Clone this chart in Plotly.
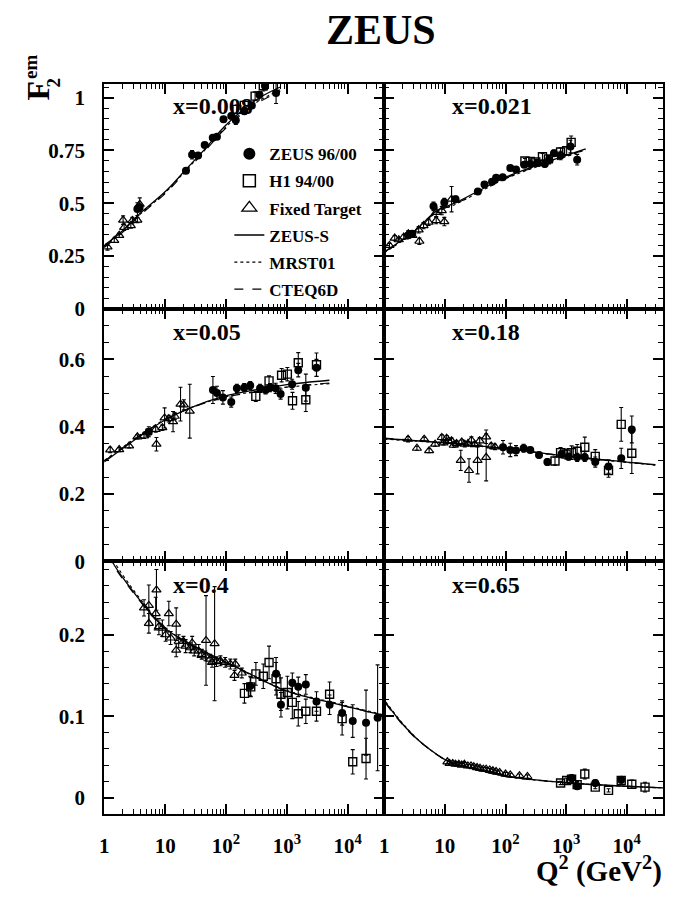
import plotly.graph_objects as go

# ---- panel labels / axis ticks ----
panel_labels = ["x=0.008", "x=0.021", "x=0.05", "x=0.18", "x=0.4", "x=0.65"]
q_tickvals = [1, 10, 100, 1000, 10000]
q_ticktext = ["1", "10", "10<sup>2</sup>", "10<sup>3</sup>", "10<sup>4</sup>"]

# ---- x = 0.008 ----
zeus_q_1 = [3.5, 3.8, 22, 27.7, 34.8, 44.7, 60.6, 71, 91, 122, 145, 200, 266, 355, 437, 665]
zeus_f_1 = [0.472, 0.48, 0.654, 0.729, 0.726, 0.776, 0.81, 0.815, 0.897, 0.913, 0.893, 0.935, 0.963, 1.013, 1.056, 1.022]
zeus_e_1 = [0.03, 0.02, 0.01, 0.02, 0.01, 0.01, 0.01, 0.01, 0.012, 0.012, 0.02, 0.015, 0.015, 0.015, 0.02, 0.05]
h1_q_1 = [151, 200, 301, 410]
h1_f_1 = [0.944, 0.963, 1.007, 1.056]
h1_e_1 = [0.02, 0.02, 0.02, 0.025]
ft_q_1 = [1.13, 1.46, 1.76, 2.04, 2.12, 2.73, 2.9, 3.5, 3.83]
ft_f_1 = [0.293, 0.324, 0.348, 0.42, 0.386, 0.394, 0.418, 0.42, 0.495]
ft_e_1 = [0.015, 0.01, 0.01, 0.02, 0.015, 0.012, 0.015, 0.012, 0.03]
curve_q_1 = [1, 2, 3.5, 10.5, 22, 43, 100, 316, 780]
zs_f_1 = [0.30, 0.37, 0.44, 0.56, 0.66, 0.75, 0.87, 0.99, 1.05]
mrst_f_1 = [0.295, 0.366, 0.436, 0.555, 0.655, 0.745, 0.862, 0.977, 1.037]
cteq_f_1 = [0.29, 0.362, 0.432, 0.551, 0.65, 0.74, 0.856, 0.97, 1.03]

# ---- x = 0.021 ----
zeus_q_2 = [2.5, 2.9, 6.5, 9.8, 15, 35, 45, 60, 70, 90, 120, 149, 204, 256, 338, 445, 524, 630, 810, 1180, 1520]
zeus_f_2 = [0.348, 0.355, 0.485, 0.503, 0.519, 0.555, 0.589, 0.601, 0.62, 0.623, 0.667, 0.659, 0.682, 0.685, 0.69, 0.686, 0.706, 0.737, 0.726, 0.768, 0.706]
zeus_e_2 = [0.015, 0.015, 0.02, 0.02, 0.015, 0.01, 0.01, 0.01, 0.01, 0.01, 0.01, 0.01, 0.01, 0.01, 0.01, 0.015, 0.02, 0.015, 0.02, 0.03, 0.025]
h1_q_2 = [209, 256, 316, 407, 510, 810, 1020, 1210]
h1_f_2 = [0.70, 0.698, 0.695, 0.72, 0.71, 0.742, 0.748, 0.788]
h1_e_2 = [0.012, 0.012, 0.012, 0.015, 0.015, 0.02, 0.02, 0.03]
ft_q_2 = [1.22, 1.49, 1.74, 2.1, 2.5, 2.9, 3.7, 3.8, 4.45, 5.4, 7.2, 7.2, 8.9, 9.8, 12.9]
ft_f_2 = [0.30, 0.335, 0.327, 0.34, 0.355, 0.348, 0.374, 0.32, 0.394, 0.41, 0.418, 0.457, 0.465, 0.413, 0.519]
ft_e_2 = [0.01, 0.012, 0.01, 0.012, 0.015, 0.01, 0.015, 0.015, 0.015, 0.015, 0.015, 0.02, 0.02, 0.02, 0.06]
curve_q_2 = [1, 3.2, 7.4, 14.5, 40, 95, 340, 2100]
zs_f_2 = [0.27, 0.37, 0.465, 0.50, 0.565, 0.62, 0.68, 0.757]
mrst_f_2 = [0.265, 0.365, 0.458, 0.493, 0.558, 0.613, 0.674, 0.752]
cteq_f_2 = [0.268, 0.368, 0.46, 0.495, 0.56, 0.615, 0.676, 0.754]

# ---- x = 0.05 ----
zeus_q_3 = [5.4, 61, 71, 89, 122, 151, 199, 250, 363, 447, 528, 655, 790, 1220, 1540, 2050, 3070]
zeus_f_3 = [0.385, 0.509, 0.50, 0.487, 0.473, 0.514, 0.516, 0.522, 0.514, 0.509, 0.516, 0.514, 0.497, 0.526, 0.568, 0.516, 0.575]
zeus_e_3 = [0.015, 0.04, 0.02, 0.02, 0.015, 0.012, 0.012, 0.012, 0.012, 0.012, 0.012, 0.015, 0.015, 0.015, 0.02, 0.04, 0.025]
h1_q_3 = [309, 510, 820, 1020, 1240, 1540, 2050, 3070]
h1_f_3 = [0.49, 0.536, 0.553, 0.556, 0.477, 0.59, 0.48, 0.584]
h1_e_3 = [0.015, 0.015, 0.02, 0.02, 0.025, 0.03, 0.035, 0.035]
ft_q_3 = [1.25, 1.76, 2.56, 3.5, 4.5, 5.1, 7.0, 7.2, 9.0, 9.8, 11.5, 13.5, 14.4, 17.9, 20.3, 25.4]
ft_f_3 = [0.331, 0.332, 0.343, 0.37, 0.373, 0.382, 0.392, 0.348, 0.397, 0.426, 0.424, 0.415, 0.431, 0.467, 0.465, 0.446]
ft_e_3 = [0.008, 0.006, 0.006, 0.006, 0.008, 0.01, 0.008, 0.02, 0.008, 0.03, 0.01, 0.03, 0.01, 0.05, 0.015, 0.08]
curve_q_3 = [1, 5.1, 10, 26, 91, 316, 1000, 5000]
zs_f_3 = [0.295, 0.387, 0.42, 0.456, 0.49, 0.51, 0.525, 0.538]
mrst_f_3 = [0.30, 0.39, 0.422, 0.456, 0.487, 0.505, 0.517, 0.528]
cteq_f_3 = [0.298, 0.389, 0.421, 0.455, 0.486, 0.504, 0.518, 0.53]

# ---- x = 0.18 ----
zeus_q_4 = [91, 120, 149, 199, 256, 357, 490, 840, 1100, 1520, 2030, 3020, 5000, 8100, 12100]
zeus_f_4 = [0.339, 0.331, 0.329, 0.336, 0.331, 0.316, 0.295, 0.319, 0.311, 0.309, 0.309, 0.295, 0.282, 0.306, 0.392]
zeus_e_4 = [0.02, 0.02, 0.015, 0.012, 0.008, 0.008, 0.01, 0.01, 0.01, 0.012, 0.012, 0.015, 0.02, 0.03, 0.04]
h1_q_4 = [655, 810, 1000, 1230, 1520, 2030, 3020, 5000, 8100, 12100]
h1_f_4 = [0.298, 0.323, 0.319, 0.323, 0.327, 0.339, 0.312, 0.27, 0.407, 0.321]
h1_e_4 = [0.012, 0.015, 0.015, 0.02, 0.02, 0.03, 0.02, 0.02, 0.05, 0.06]
ft_q_4 = [2.47, 3.46, 4.56, 5.5, 6.9, 8.9, 10.7, 12.9, 15.6, 18.3, 21.3, 25, 27.4, 34.6, 37.5, 48, 48, 58, 67,
          9.5, 11.5, 14, 19, 24, 31]
ft_f_4 = [0.363, 0.336, 0.363, 0.329, 0.348, 0.368, 0.366, 0.358, 0.350, 0.30, 0.348, 0.27, 0.36, 0.30, 0.358, 0.37, 0.309, 0.343, 0.34,
          0.352, 0.357, 0.345, 0.355, 0.35, 0.347]
ft_e_4 = [0.008, 0.006, 0.006, 0.006, 0.006, 0.008, 0.008, 0.008, 0.008, 0.03, 0.008, 0.035, 0.01, 0.04, 0.01, 0.02, 0.07, 0.008, 0.008,
          0.006, 0.006, 0.006, 0.006, 0.006, 0.006]
curve_q_4 = [1, 10, 100, 1000, 10000, 29500]
zs_f_4 = [0.365, 0.352, 0.335, 0.313, 0.295, 0.287]
mrst_f_4 = [0.363, 0.351, 0.334, 0.312, 0.294, 0.286]
cteq_f_4 = [0.366, 0.353, 0.335, 0.313, 0.295, 0.287]

# ---- x = 0.4 ----
zeus_q_5 = [250, 665, 800, 1230, 1540, 2050, 3070, 5040, 8100, 12100, 20000, 31000]
zeus_f_5 = [0.137, 0.152, 0.114, 0.141, 0.136, 0.139, 0.118, 0.114, 0.104, 0.094, 0.092, 0.098]
zeus_e_5 = [0.012, 0.02, 0.015, 0.012, 0.012, 0.012, 0.012, 0.012, 0.015, 0.02, 0.04, 0.065]
h1_q_5 = [201, 255, 310, 410, 510, 665, 800, 1020, 1230, 1540, 2050, 3070, 5040, 8100, 12100, 20000]
h1_f_5 = [0.128, 0.136, 0.152, 0.149, 0.166, 0.146, 0.127, 0.129, 0.117, 0.103, 0.106, 0.106, 0.127, 0.097, 0.044, 0.048]
h1_e_5 = [0.012, 0.012, 0.014, 0.015, 0.02, 0.02, 0.02, 0.02, 0.02, 0.015, 0.015, 0.012, 0.015, 0.02, 0.015, 0.025]
ft_q_5 = [4.5, 5.4, 7.2, 7.0, 9.0, 11.5, 15.2, 15.2, 20, 27.8, 47, 65, 59, 81, 97, 118, 142, 138, 182,
          5.4, 7.9, 10.2, 12.3, 16.7, 21.7, 26, 30, 35.6, 40, 45.8, 55, 70]
ft_f_5 = [0.233, 0.236, 0.255, 0.226, 0.208, 0.226, 0.213, 0.181, 0.192, 0.19, 0.193, 0.189, 0.166, 0.168, 0.166, 0.164, 0.164, 0.15, 0.153,
          0.214, 0.21, 0.2, 0.196, 0.192, 0.186, 0.184, 0.18, 0.18, 0.176, 0.174, 0.17, 0.167]
ft_e_5 = [0.01, 0.025, 0.025, 0.02, 0.01, 0.015, 0.02, 0.008, 0.006, 0.008, 0.055, 0.07, 0.006, 0.006, 0.006, 0.006, 0.006, 0.006, 0.006,
          0.012, 0.01, 0.008, 0.008, 0.008, 0.008, 0.006, 0.006, 0.008, 0.006, 0.006, 0.006, 0.006]
curve_q_5 = [1.2, 1.37, 4.5, 10.7, 43, 151, 977, 6460, 38000]
zs_f_5 = [0.30, 0.289, 0.236, 0.206, 0.18, 0.16, 0.131, 0.115, 0.101]
mrst_f_5 = [0.305, 0.293, 0.238, 0.207, 0.18, 0.16, 0.132, 0.116, 0.102]
cteq_f_5 = [0.298, 0.287, 0.235, 0.205, 0.179, 0.159, 0.131, 0.115, 0.101]

# ---- x = 0.65 ----
zeus_q_6 = [1230, 1520, 3020, 8100]
zeus_f_6 = [0.024, 0.014, 0.018, 0.022]
zeus_e_6 = [0.004, 0.004, 0.004, 0.004]
h1_q_6 = [810, 1020, 1230, 1520, 2030, 3020, 5000, 8100, 12100, 20000]
h1_f_6 = [0.018, 0.021, 0.0226, 0.016, 0.029, 0.013, 0.009, 0.021, 0.0165, 0.013]
h1_e_6 = [0.002, 0.003, 0.004, 0.004, 0.006, 0.002, 0.002, 0.005, 0.005, 0.006]
ft_q_6 = [11, 12, 13.5, 15, 17, 19, 21, 24, 27, 30, 34, 38, 43, 48, 55, 62, 70, 80, 100, 120, 170, 230]
ft_f_6 = [0.044, 0.042, 0.042, 0.041, 0.041, 0.040, 0.041, 0.039, 0.039, 0.038, 0.037, 0.036, 0.035, 0.035, 0.034, 0.033, 0.032, 0.031, 0.029, 0.028, 0.027, 0.026]
ft_e_6 = [0.002] * len(ft_q_6)
curve_q_6 = [1.05, 2.2, 4.2, 11.5, 27, 102, 1180, 40000]
zs_f_6 = [0.117, 0.087, 0.0667, 0.0444, 0.0364, 0.0262, 0.018, 0.012]
mrst_f_6 = [0.118, 0.088, 0.067, 0.0444, 0.0363, 0.0261, 0.018, 0.012]
cteq_f_6 = [0.116, 0.086, 0.0665, 0.0443, 0.0363, 0.0261, 0.018, 0.012]

panels = [
    (zeus_q_1, zeus_f_1, zeus_e_1, h1_q_1, h1_f_1, h1_e_1, ft_q_1, ft_f_1, ft_e_1, curve_q_1, zs_f_1, mrst_f_1, cteq_f_1),
    (zeus_q_2, zeus_f_2, zeus_e_2, h1_q_2, h1_f_2, h1_e_2, ft_q_2, ft_f_2, ft_e_2, curve_q_2, zs_f_2, mrst_f_2, cteq_f_2),
    (zeus_q_3, zeus_f_3, zeus_e_3, h1_q_3, h1_f_3, h1_e_3, ft_q_3, ft_f_3, ft_e_3, curve_q_3, zs_f_3, mrst_f_3, cteq_f_3),
    (zeus_q_4, zeus_f_4, zeus_e_4, h1_q_4, h1_f_4, h1_e_4, ft_q_4, ft_f_4, ft_e_4, curve_q_4, zs_f_4, mrst_f_4, cteq_f_4),
    (zeus_q_5, zeus_f_5, zeus_e_5, h1_q_5, h1_f_5, h1_e_5, ft_q_5, ft_f_5, ft_e_5, curve_q_5, zs_f_5, mrst_f_5, cteq_f_5),
    (zeus_q_6, zeus_f_6, zeus_e_6, h1_q_6, h1_f_6, h1_e_6, ft_q_6, ft_f_6, ft_e_6, curve_q_6, zs_f_6, mrst_f_6, cteq_f_6),
]

# per-row y axis setup
y_ranges = [[0, 1.065], [0, 0.75], [-0.02, 0.29]]
y_tickvals = [[0, 0.25, 0.5, 0.75, 1], [0, 0.2, 0.4, 0.6], [0, 0.1, 0.2]]
y_ticktext = [["0", "0.25", "0.5", "0.75", "1"], ["0", "0.2", "0.4", "0.6"], ["0", "0.1", "0.2"]]
y_minor = [0.05, 0.05, 0.02]

# panel geometry (paper fractions)
col_dom = [[0.1462, 0.5585], [0.5585, 0.9693]]
row_dom = [[0.6526, 0.9057], [0.3685, 0.6526], [0.0844, 0.3685]]

q_minor = [m * 10 ** d for d in range(5) for m in range(2, 10)]

FONT = "Liberation Serif"
blk = "black"

fig = go.Figure()

for i, p in enumerate(panels):
    zq, zf, ze, hq, hf, he, fq, ff, fe, cq, zs, mr, ct = p
    sfx = "" if i == 0 else str(i + 1)
    xa, ya = "x" + sfx, "y" + sfx
    err = dict(type="data", thickness=1.1, width=2, color=blk)

    fig.add_trace(go.Scatter(x=cq, y=zs, mode="lines", line=dict(color=blk, width=1.3, shape="spline"),
                             xaxis=xa, yaxis=ya, showlegend=False))
    fig.add_trace(go.Scatter(x=cq, y=mr, mode="lines", line=dict(color=blk, width=1.1, dash="dot", shape="spline"),
                             xaxis=xa, yaxis=ya, showlegend=False))
    fig.add_trace(go.Scatter(x=cq, y=ct, mode="lines", line=dict(color=blk, width=1.1, dash="dash", shape="spline"),
                             xaxis=xa, yaxis=ya, showlegend=False))
    fig.add_trace(go.Scatter(x=fq, y=ff, mode="markers",
                             marker=dict(symbol="triangle-up-open", size=8, color=blk, line=dict(width=1.2)),
                             error_y=dict(array=fe, **err), xaxis=xa, yaxis=ya, showlegend=False))
    fig.add_trace(go.Scatter(x=hq, y=hf, mode="markers",
                             marker=dict(symbol="square-open", size=8, color=blk, line=dict(width=1.4)),
                             error_y=dict(array=he, **err), xaxis=xa, yaxis=ya, showlegend=False))
    fig.add_trace(go.Scatter(x=zq, y=zf, mode="markers", marker=dict(symbol="circle", size=8, color=blk),
                             error_y=dict(array=ze, **err), xaxis=xa, yaxis=ya, showlegend=False))

    row, col = i // 2, i % 2
    tickfont = dict(family=FONT, size=21, color=blk, weight="bold")
    fig.layout["xaxis" + sfx] = dict(
        type="log", range=[0, 4.6], domain=col_dom[col], anchor=ya,
        tickvals=q_tickvals, ticktext=q_ticktext, showticklabels=(row == 2),
        ticks="inside", ticklen=10, tickwidth=1.5, tickcolor=blk,
        minor=dict(ticks="inside", ticklen=5, tickwidth=1.2, tickcolor=blk, tickvals=q_minor),
        mirror="allticks", showline=True, linewidth=2, linecolor=blk,
        showgrid=False, zeroline=False, tickfont=tickfont, ticklabelstandoff=12)
    fig.layout["yaxis" + sfx] = dict(
        range=y_ranges[row], domain=row_dom[row], anchor=xa,
        tickvals=y_tickvals[row], ticktext=y_ticktext[row], showticklabels=(col == 0),
        ticks="inside", ticklen=10, tickwidth=1.5, tickcolor=blk,
        minor=dict(ticks="inside", ticklen=5, tickwidth=1.2, tickcolor=blk, dtick=y_minor[row], tick0=0),
        mirror="allticks", showline=True, linewidth=2, linecolor=blk,
        showgrid=False, zeroline=False, tickfont=tickfont, ticklabelstandoff=13)

    # panel label
    fig.add_annotation(text=panel_labels[i], xref="paper", yref="paper",
                       x=[0.2442, 0.655][col], y=[0.8812, 0.627, 0.3418][row],
                       xanchor="left", yanchor="middle", showarrow=False,
                       font=dict(family=FONT, size=24, color=blk, weight="bold"))

# legend entries (legend-only traces so the symbols can be drawn larger)
legend_names = ["ZEUS 96/00", "H1 94/00", "Fixed Target", "ZEUS-S", "MRST01", "CTEQ6D"]
legend_marks = [
    dict(mode="markers", marker=dict(symbol="circle", size=12, color=blk)),
    dict(mode="markers", marker=dict(symbol="square-open", size=12, color=blk, line=dict(width=1.5))),
    dict(mode="markers", marker=dict(symbol="triangle-up-open", size=13, color=blk, line=dict(width=1.3))),
    dict(mode="lines", line=dict(color=blk, width=1.5)),
    dict(mode="lines", line=dict(color=blk, width=1.2, dash="dot")),
    dict(mode="lines", line=dict(color=blk, width=1.2, dash="dash")),
]
for k, (nm, mk) in enumerate(zip(legend_names, legend_marks)):
    fig.add_trace(go.Scatter(x=[None], y=[None], name=nm, legendgroup=nm, legendrank=k + 1,
                             showlegend=True, **mk))

# title
fig.add_annotation(text="ZEUS", xref="paper", yref="paper", x=0.554, y=0.966,
                   xanchor="center", yanchor="middle", showarrow=False,
                   font=dict(family=FONT, size=42, color=blk, weight="bold"))

# y axis title F_2^em (rotated pieces)
fig.add_annotation(text="F", xref="paper", yref="paper", x=33 / 684, y=1 - 92 / 901,
                   textangle=-90, showarrow=False, xanchor="center", yanchor="middle",
                   font=dict(family=FONT, size=32, color=blk, weight="bold"))
fig.add_annotation(text="2", xref="paper", yref="paper", x=49 / 684, y=1 - 84 / 901,
                   textangle=-90, showarrow=False, xanchor="center", yanchor="middle",
                   font=dict(family=FONT, size=19, color=blk, weight="bold"))
fig.add_annotation(text="em", xref="paper", yref="paper", x=25 / 684, y=1 - 68 / 901,
                   textangle=-90, showarrow=False, xanchor="center", yanchor="middle",
                   font=dict(family=FONT, size=19, color=blk, weight="bold"))

# x axis title
fig.add_annotation(text="Q<sup>2</sup> (GeV<sup>2</sup>)", xref="paper", yref="paper",
                   x=663 / 684, y=0, xanchor="right", yanchor="bottom", borderpad=0,
                   showarrow=False, font=dict(family=FONT, size=29, color=blk, weight="bold"))

fig.update_layout(
    width=684, height=901,
    margin=dict(l=0, r=0, t=0, b=0),
    paper_bgcolor="white", plot_bgcolor="white",
    legend=dict(x=226 / 684, y=1 - 138 / 901, xanchor="left", yanchor="top",
                bgcolor="rgba(0,0,0,0)", borderwidth=0,
                traceorder="grouped", tracegroupgap=2,
                font=dict(family=FONT, size=17, color=blk, weight="bold")),
)

# drop the default body margin so the figure sits at the window origin
fig.write_html("out.html", config={"displayModeBar": False},
               post_script="document.body.style.margin='0';")
